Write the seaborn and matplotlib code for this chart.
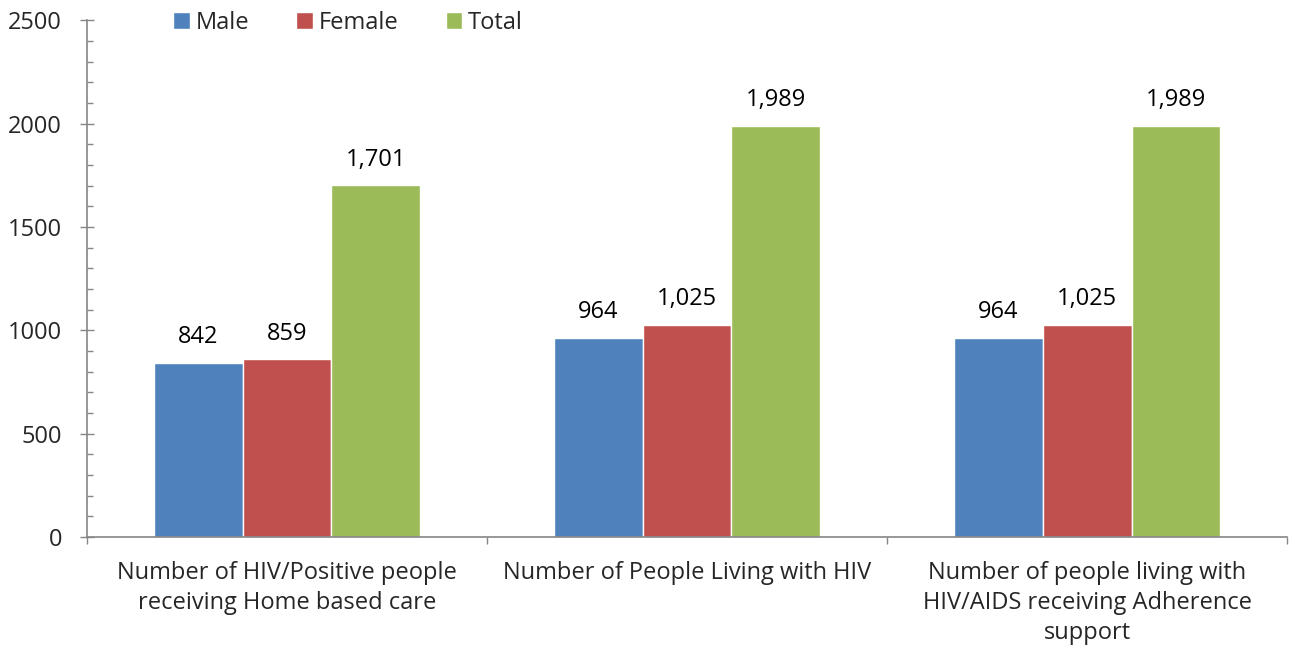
import pandas as pd
import matplotlib.pyplot as plt
import seaborn as sns
from matplotlib.ticker import MultipleLocator

# data
categorias = ['Number of HIV/Positive people\nreceiving Home based care',
              'Number of People Living with HIV',
              'Number of people living with\nHIV/AIDS receiving Adherence\nsupport']
grupos = ['Male', 'Female', 'Total']
male = [842, 964, 964]
female = [859, 1025, 1025]
total = [1701, 1989, 1989]
cores = ['#4F81BD', '#C0504D', '#9BBB59']

df = pd.DataFrame({
    'Categoria': categorias * 3,
    'Grupo': [g for g in grupos for _ in categorias],
    'Valor': male + female + total,
})

sns.set_theme(style="white")
plt.rcParams['font.family'] = ['Open Sans', 'DejaVu Sans']

fig = plt.figure(figsize=(12.96, 6.54), dpi=100)
ax = fig.add_axes([0.0671, 0.179, 0.926, 0.790])

sns.barplot(data=df, x='Categoria', y='Valor', hue='Grupo', palette=cores,
            width=0.667, saturation=1, ax=ax)

# rótulos de valor acima das barras
for cont in ax.containers:
    ax.bar_label(cont, labels=[f'{v:,.0f}' for v in cont.datavalues],
                 padding=10, fontsize=17, color='black')

ax.set_xlim(-0.5, 2.5)
ax.set_ylim(0, 2500)
ax.set_xlabel('')
ax.set_ylabel('')

ax.yaxis.set_major_locator(MultipleLocator(500))
ax.yaxis.set_minor_locator(MultipleLocator(100))
ax.tick_params(axis='y', which='major', direction='inout', length=10, width=1,
               color='#868686', labelsize=17, pad=13, left=True)
ax.tick_params(axis='y', which='minor', direction='in', length=4.3, width=1,
               color='#868686', left=True)

ax.set_xticks([0, 1, 2])
ax.set_xticklabels(categorias, linespacing=1.35)
ax.set_xticks([-0.5, 0.5, 1.5, 2.5], minor=True)
ax.tick_params(axis='x', which='major', length=0, labelsize=17, pad=17)
ax.tick_params(axis='x', which='minor', direction='out', length=5, width=1,
               color='#868686', bottom=True)

for lado in ['top', 'right']:
    ax.spines[lado].set_visible(False)
for lado in ['left', 'bottom']:
    ax.spines[lado].set_color('#868686')
    ax.spines[lado].set_linewidth(1.2)

ax.legend(loc='upper left', bbox_to_anchor=(0.054, 1.06), ncol=3, frameon=False,
          fontsize=17, handlelength=0.7, handleheight=0.7, handletextpad=0.25,
          columnspacing=2.0)

plt.savefig('out.png', dpi=100)
